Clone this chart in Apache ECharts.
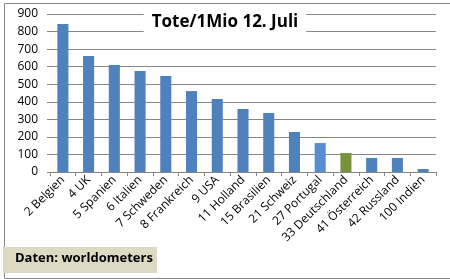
<!DOCTYPE html>
<html><head><meta charset="utf-8">
<script src="https://cdn.jsdelivr.net/npm/echarts@6/dist/echarts.min.js"></script>
<style>html,body{margin:0;padding:0;background:#fff}#c{width:450px;height:279px}</style>
</head><body><div id="c"></div>
<script>
const categories = ['2 Belgien','4 UK','5 Spanien','6 Italien','7 Schweden','8 Frankreich','9 USA','11 Holland','15 Brasilien','21 Schweiz','27 Portugal','33 Deutschland','41 Österreich','42 Russland','100 Indien'];
const values = [843, 661, 609, 575, 547, 461, 416, 359, 336, 228, 165, 108, 80, 80, 17];
const yTicks = [0, 100, 200, 300, 400, 500, 600, 700, 800, 900];
const colors = categories.map(c => c === '33 Deutschland' ? '#77933C' : (c === '27 Portugal' ? '#558ED5' : '#4F81BD'));
const font = 'Open Sans';
const chart = echarts.init(document.getElementById('c'));
chart.setOption({
  animation: false,
  textStyle: {fontFamily: font},
  title: {text: 'Tote/1Mio 12. Juli', left: 'center', top: 12, padding: [2, 8, 2, 8],
    backgroundColor: '#fff',
    textStyle: {fontSize: 17, fontWeight: 'bold', color: '#000', fontFamily: font}},
  grid: {left: 50, right: 14, top: 14, bottom: 107, containLabel: false},
  xAxis: {type: 'category', data: categories,
    axisLine: {lineStyle: {color: '#868686', width: 1}},
    axisTick: {show: true, length: 4, lineStyle: {color: '#868686'}},
    axisLabel: {rotate: 45, color: '#000', fontSize: 12, margin: 6, interval: 0, fontFamily: font}},
  yAxis: {type: 'value', min: yTicks[0], max: yTicks[yTicks.length-1], interval: 100,
    axisLine: {show: false},
    axisTick: {show: true, length: 3, lineStyle: {color: '#868686'}},
    splitLine: {lineStyle: {color: '#868686', width: 1}},
    axisLabel: {color: '#000', fontSize: 12, margin: 12, fontFamily: font}},
  series: [{type: 'bar', barWidth: '43%',
    data: values.map((v, i) => ({value: v, itemStyle: {color: colors[i]}}))}],
  graphic: [
    {type: 'rect', left: 2, top: 1, shape: {width: 446, height: 275}, style: {fill: 'none', stroke: '#868686', lineWidth: 1}, z: -1},
    {type: 'rect', left: 3, top: 247, shape: {width: 154, height: 26}, style: {fill: '#DDD9C3'}, z: 10},
    {type: 'text', left: 15, top: 252, style: {text: 'Daten: worldometers', fontSize: 13, fontWeight: 'bold', fill: '#000', fontFamily: font}, z: 11}
  ]
});
</script></body></html>
